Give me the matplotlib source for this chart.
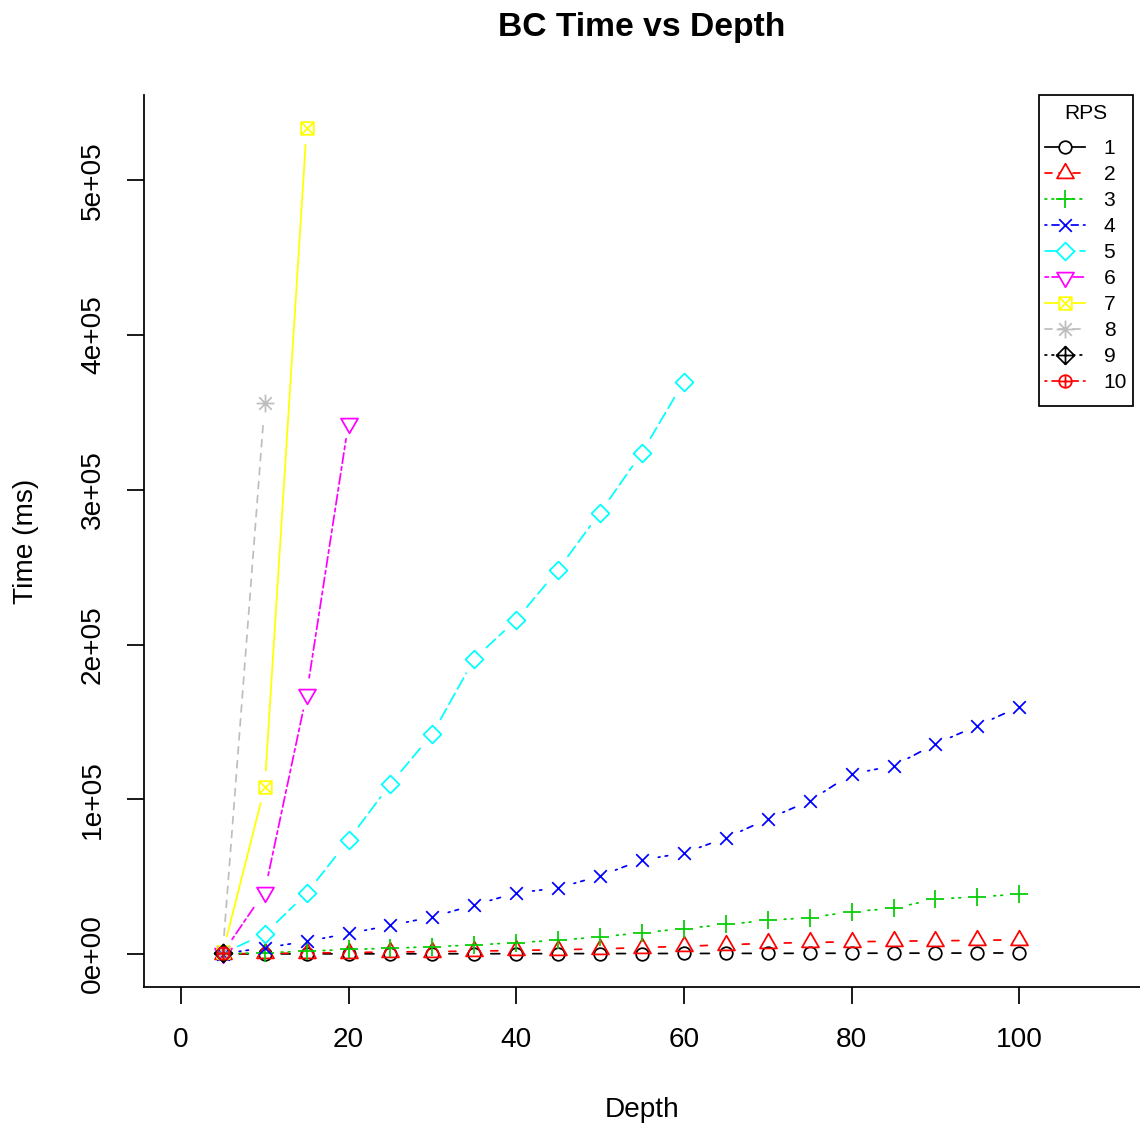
import numpy as np
import matplotlib
matplotlib.use("Agg")
import matplotlib.pyplot as plt
from matplotlib.path import Path
from matplotlib.lines import Line2D
from matplotlib.offsetbox import DrawingArea

plt.rcParams['font.family'] = ['Liberation Sans', 'DejaVu Sans']

# ---------------- data ----------------
depth = [5, 10, 15, 20, 25, 30, 35, 40, 45, 50, 55, 60, 65, 70, 75, 80, 85, 90, 95, 100]
rps_labels = ['1', '2', '3', '4', '5', '6', '7', '8', '9', '10']

time_rps1 = [50, 80, 100, 120, 150, 180, 200, 230, 260, 300, 330, 370, 400, 440, 480, 520, 560, 600, 650, 700]
time_rps2 = [100, 400, 650, 950, 1300, 1600, 1900, 2300, 2800, 3300, 4200, 5000, 6000, 6900, 7500, 7900, 8300, 8600, 8800, 9300]
time_rps3 = [150, 900, 1800, 3000, 3700, 4800, 5800, 7400, 8900, 11100, 13700, 16500, 19100, 21800, 23500, 27400, 29500, 35600, 36900, 38700]
time_rps4 = [250, 4000, 8200, 13300, 18500, 24000, 31700, 39500, 42700, 50500, 60800, 65300, 75000, 87300, 99000, 116400, 121600, 135800, 147500, 159800]
time_rps5 = [400, 13000, 39300, 73700, 110000, 142300, 190800, 216000, 248400, 285300, 324100, 370000]
time_rps6 = [700, 40400, 168000, 343500]
time_rps7 = [1000, 108000, 533800]
time_rps8 = [1500, 356000]
time_rps9 = [800]
time_rps10 = [600]

series = [time_rps1, time_rps2, time_rps3, time_rps4, time_rps5,
          time_rps6, time_rps7, time_rps8, time_rps9, time_rps10]

# ---------------- styles (R matplot defaults) ----------------
colors = ['#000000', '#FF0000', '#00CD00', '#0000FF', '#00FFFF',
          '#FF00FF', '#FFFF00', '#BEBEBE', '#000000', '#FF0000']
R_LTY = ['-', (0, (4, 4)), (0, (1, 3)), (0, (1, 3, 4, 3)), (0, (7, 3)), (0, (2, 2, 6, 2))]
linestyles = [R_LTY[i % 6] for i in range(10)]

r2 = np.sqrt(2.0)


def lines_path(*segs):
    verts, codes = [], []
    for (a, b) in segs:
        verts += [a, b]
        codes += [Path.MOVETO, Path.LINETO]
    return Path(verts, codes)


def poly_path(pts):
    verts = list(pts) + [pts[0]]
    codes = [Path.MOVETO] + [Path.LINETO] * (len(pts) - 1) + [Path.CLOSEPOLY]
    return Path(verts, codes)


circ = Path.unit_circle()
plus1 = lines_path(((-1, 0), (1, 0)), ((0, -1), (0, 1)))
plus2 = lines_path(((-r2, 0), (r2, 0)), ((0, -r2), (0, r2)))
cross1 = lines_path(((-1, -1), (1, 1)), ((-1, 1), (1, -1)))
diam = poly_path([(0, r2), (r2, 0), (0, -r2), (-r2, 0)])
markers = [
    (circ, 1.0),
    (poly_path([(0, 1.555), (1.347, -0.778), (-1.347, -0.778)]), 1.555),
    (plus2, r2),
    (cross1, 1.0),
    (diam, r2),
    (poly_path([(0, -1.555), (1.347, 0.778), (-1.347, 0.778)]), 1.555),
    (Path.make_compound_path(poly_path([(-1, -1), (1, -1), (1, 1), (-1, 1)]), cross1), 1.0),
    (Path.make_compound_path(cross1, plus2), r2),
    (Path.make_compound_path(diam, plus2), r2),
    (Path.make_compound_path(circ, plus1), 1.0),
]

DPI = 100
W, H = 1140, 1127
PT = 72.0 / DPI
U_PX = 6.3                 # R symbol radius unit in pixels
LW = 1.75 * PT             # lwd = 1
GAP_PX = 16.5              # gap around points for type = "b"

fig = plt.figure(figsize=(W / DPI, H / DPI), dpi=DPI)
ax = fig.add_axes([144 / W, (H - 987) / H, (1140 - 144) / W, (987 - 95) / H])

allv = np.concatenate([np.asarray(s, float) for s in series])
lo, hi = allv.min(), allv.max()
pad = 0.04 * (hi - lo)
ax.set_ylim(lo - pad, hi + pad)
ax.set_xlim(0 - 0.04 * 110, 110 + 0.04 * 110)

inv = ax.transData.inverted()
for i, ys in enumerate(series):
    xs = depth[:len(ys)]
    pts = ax.transData.transform(np.column_stack([xs, ys]).astype(float))
    for p0, p1 in zip(pts[:-1], pts[1:]):
        d = np.hypot(*(p1 - p0))
        if d > 2 * GAP_PX:
            f = GAP_PX / d
            a = p0 + f * (p1 - p0)
            b = p1 - f * (p1 - p0)
            seg = inv.transform(np.array([a, b]))
            ax.plot(seg[:, 0], seg[:, 1], color=colors[i], linestyle=linestyles[i],
                    lw=LW, dash_capstyle='round', solid_capstyle='round',
                    zorder=2 + i * 0.01, clip_on=True)
    mpath, ext = markers[i]
    ax.plot(xs, ys, linestyle='none', marker=mpath, ms=2 * ext * U_PX * PT,
            mec=colors[i], mfc='none', mew=LW, zorder=2.005 + i * 0.01)

# axes styling
for s in ['top', 'right']:
    ax.spines[s].set_visible(False)
for s in ['left', 'bottom']:
    ax.spines[s].set_linewidth(LW)
    ax.spines[s].set_color('black')

xt = [0, 20, 40, 60, 80, 100]
yt = [0, 100000, 200000, 300000, 400000, 500000]
ax.set_xticks(xt)
ax.set_xticklabels([str(v) for v in xt])
ax.set_yticks(yt)
ax.set_yticklabels([format(float(v), '.0e') for v in yt])
FS = 28 * PT
ax.tick_params(axis='both', direction='out', length=17 * PT, width=LW, labelsize=FS, color='black')
ax.tick_params(axis='x', pad=23 * PT)
ax.tick_params(axis='y', pad=21 * PT, labelrotation=90)
for lbl in ax.get_yticklabels():
    lbl.set_va('center')

fig.text(642 / W, 1 - 36 / H, 'BC Time vs Depth', ha='center', va='baseline',
         fontsize=33.6 * PT, fontweight='bold')
fig.text(642 / W, 1 - 1117 / H, 'Depth', ha='center', va='baseline', fontsize=FS)
fig.text(33 / W, 1 - 541 / H, 'Time (ms)', rotation=90, rotation_mode='anchor',
         ha='center', va='baseline', fontsize=FS)

# legend
handles = []
for i in range(10):
    mpath, ext = markers[i]
    handles.append(Line2D([], [], color=colors[i], linestyle=linestyles[i], lw=LW,
                          dash_capstyle='round', marker=mpath, ms=2 * ext * U_PX * PT,
                          mec=colors[i], mfc='white', mew=LW))
LFS = 21 * PT
leg = fig.legend(handles, rps_labels, loc='upper right',
                 bbox_to_anchor=(1133 / W, 1 - 95 / H), bbox_transform=fig.transFigure,
                 borderaxespad=0, frameon=True, fancybox=False, edgecolor='black',
                 framealpha=1, fontsize=LFS, title='RPS', title_fontsize=LFS,
                 handlelength=1.9, handletextpad=0.9, labelspacing=0.335,
                 borderpad=0.285, numpoints=1)
leg.get_frame().set_linewidth(LW)
try:
    box = leg._legend_box
    box.sep = 0
    box._children.insert(0, DrawingArea(1, 3 * PT))
    box._children.insert(2, DrawingArea(1, 16 * PT))
    box._children.append(DrawingArea(1, 8 * PT))
except Exception:
    pass

fig.savefig('out.png', dpi=DPI)
